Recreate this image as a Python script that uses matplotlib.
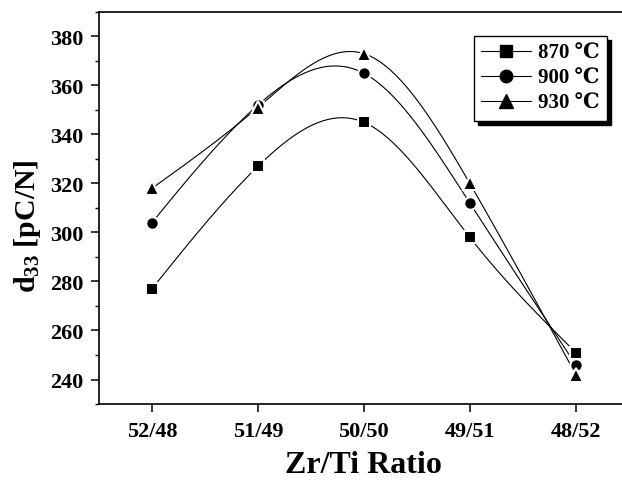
import numpy as np
import matplotlib
matplotlib.use('Agg')
from matplotlib import pyplot as plt

ratios = ['52/48', '51/49', '50/50', '49/51', '48/52']
d33_870 = [277, 327, 345, 298, 251]
d33_900 = [304, 352, 365, 312, 246]
d33_930 = [318, 351, 373, 320, 242]
labels = ['870 ℃', '900 ℃', '930 ℃']
markers = ['s', 'o', '^']
msizes = [8, 9, 10.5]


def natural_spline(x, y, n=200):
    # natural cubic spline through the points
    x = np.asarray(x, float)
    y = np.asarray(y, float)
    k = len(x)
    h = np.diff(x)
    A = np.zeros((k, k))
    b = np.zeros(k)
    A[0, 0] = A[-1, -1] = 1
    for i in range(1, k - 1):
        A[i, i - 1] = h[i - 1]
        A[i, i] = 2 * (h[i - 1] + h[i])
        A[i, i + 1] = h[i]
        b[i] = 3 * ((y[i + 1] - y[i]) / h[i] - (y[i] - y[i - 1]) / h[i - 1])
    c = np.linalg.solve(A, b)
    xs = np.linspace(x[0], x[-1], n)
    ys = np.empty_like(xs)
    for j, xv in enumerate(xs):
        i = min(np.searchsorted(x, xv, side='right') - 1, k - 2)
        dx = xv - x[i]
        bi = (y[i + 1] - y[i]) / h[i] - h[i] * (2 * c[i] + c[i + 1]) / 3
        di = (c[i + 1] - c[i]) / (3 * h[i])
        ys[j] = y[i] + bi * dx + c[i] * dx ** 2 + di * dx ** 3
    return xs, ys


plt.rcParams['font.family'] = ['Liberation Serif', 'DejaVu Serif']
plt.rcParams['font.weight'] = 'bold'
plt.rcParams['mathtext.fontset'] = 'custom'
plt.rcParams['mathtext.rm'] = 'Liberation Serif:bold'
plt.rcParams['mathtext.bf'] = 'Liberation Serif:bold'
plt.rcParams['mathtext.default'] = 'bf'

fig = plt.figure(figsize=(6.22, 4.81), dpi=100)
ax = fig.add_axes([0.159, 0.158, 0.852, 0.815])

x = np.arange(len(ratios))
for vals, m, ms, lab in zip([d33_870, d33_900, d33_930], markers, msizes, labels):
    xs, ys = natural_spline(x, vals)
    ax.plot(xs, ys, color='black', lw=0.8, zorder=2)
    ax.plot(x, vals, ls='none', marker=m, ms=ms,
            mfc='black', mec='white', mew=1.5, zorder=3)
    ax.plot([], [], color='black', lw=0.8, marker=m, ms=ms,
            mfc='black', mec='black', label=lab)

ax.set_xlim(-0.5, 4.5)
ax.set_ylim(230, 390)
ax.set_xticks(x)
ax.set_xticklabels(ratios)
ax.set_yticks(np.arange(240, 381, 20))
ax.set_yticks(np.arange(230, 391, 10), minor=True)
ax.tick_params(axis='both', which='major', labelsize=16, length=6, width=1.1, direction='out', pad=5)
ax.tick_params(axis='x', which='major', pad=6)
ax.tick_params(axis='y', which='minor', length=3, width=1.0, direction='out')
for lab in ax.get_xticklabels() + ax.get_yticklabels():
    lab.set_fontweight('bold')
for s in ax.spines.values():
    s.set_linewidth(1.2)

ax.set_xlabel('Zr/Ti Ratio', fontsize=23, fontweight='bold', labelpad=7)
ax.set_ylabel('d$_{33}$ [pC/N]', fontsize=21.5, fontweight='bold', labelpad=4)
ax.yaxis.set_label_coords(-0.106, 0.455)

leg = ax.legend(loc='upper right', bbox_to_anchor=(0.958, 0.94), borderaxespad=0,
                fontsize=15, fancybox=False,
                shadow={'ox': 3, 'oy': -3, 'color': 'black', 'alpha': 1},
                edgecolor='black', framealpha=1, handlelength=2.4,
                borderpad=0.35, labelspacing=0.25, handletextpad=0.3)
leg.get_frame().set_linewidth(1.0)

plt.savefig('out.png', dpi=100)
